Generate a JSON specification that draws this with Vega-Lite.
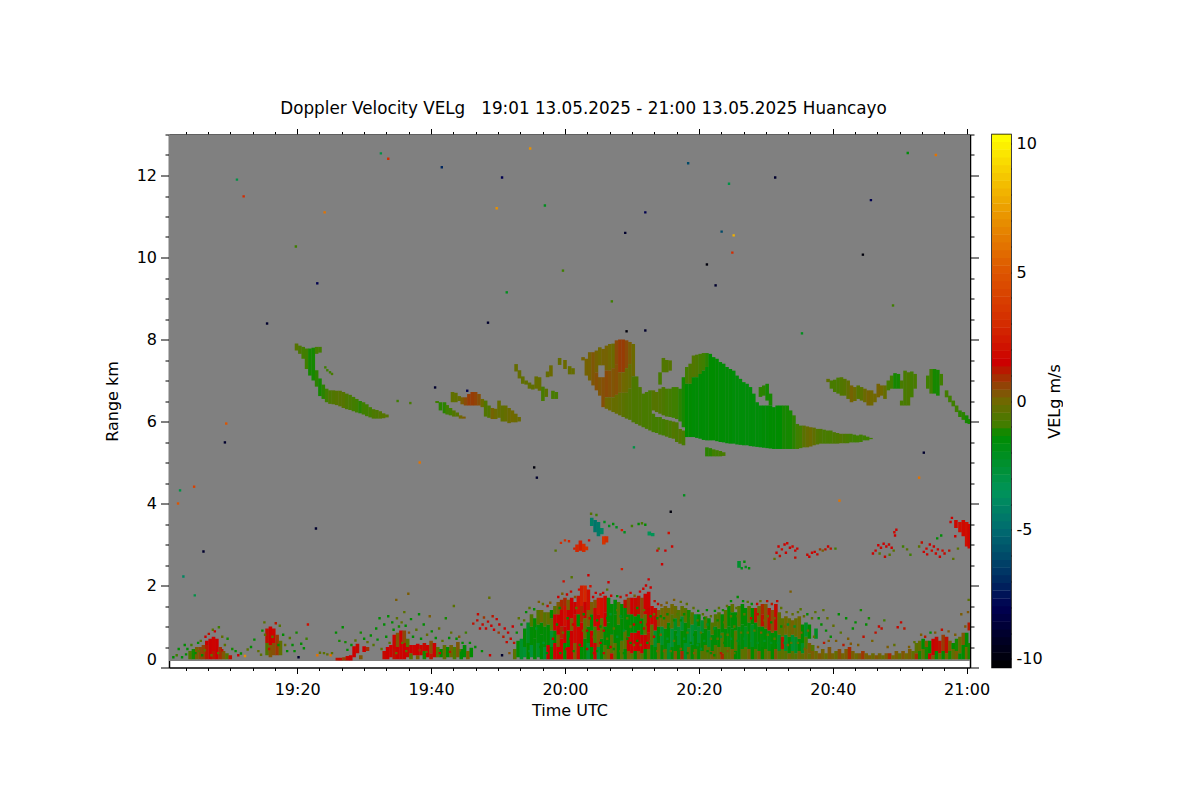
{"$schema":"https://vega.github.io/schema/vega-lite/v6.json","background":"white","padding":{"left":104,"top":100.5,"right":0,"bottom":0},"config":{"view":{"stroke":null},"font":"DejaVu Sans","axis":{"labelFont":"DejaVu Sans","titleFont":"DejaVu Sans","labelFontSize":16,"titleFontSize":16,"labelColor":"black","titleColor":"black","titleFontWeight":"normal","domainColor":"black","tickColor":"black","domainWidth":1.5,"grid":false}},"title":{"text":"Doppler Velocity VELg\u00a0\u00a0\u00a019:01 13.05.2025 - 21:00 13.05.2025 Huancayo","fontSize":16.8,"fontWeight":"normal","font":"DejaVu Sans","color":"black","anchor":"middle","offset":10},"spacing":1,"datasets":{"frame":[{"a":0.85,"b":120.5,"r":0.16,"r2":13}],
"columns":[
{"t":19.9,"r":7.73,"r2":7.9,"v":-0.5},{"t":20.4,"r":7.65,"r2":7.85,"v":-0.7},{"t":20.9,"r":7.53,"r2":7.82,"v":-0.9},{"t":21.4,"r":7.28,"r2":7.78,"v":-1},{"t":21.9,"r":7.12,"r2":7.78,"v":-1.2},{"t":22.4,"r":7,"r2":7.8,"v":-1.2},{"t":22.9,"r":6.85,"r2":7.25,"v":-1.1},{"t":22.9,"r":7.65,"r2":7.82,"v":-0.9},{"t":23.4,"r":6.62,"r2":7.05,"v":-1.2},{"t":23.4,"r":7.68,"r2":7.82,"v":-0.9},{"t":23.9,"r":6.55,"r2":6.9,"v":-1.1},{"t":24.4,"r":6.47,"r2":6.8,"v":-1},{"t":24.9,"r":6.43,"r2":6.76,"v":-0.7},{"t":25.4,"r":6.42,"r2":6.76,"v":-0.6},{"t":25.9,"r":6.4,"r2":6.75,"v":-0.5},{"t":26.4,"r":6.37,"r2":6.75,"v":-0.5},{"t":26.9,"r":6.33,"r2":6.72,"v":-0.5},{"t":27.4,"r":6.3,"r2":6.68,"v":-0.7},{"t":27.9,"r":6.28,"r2":6.65,"v":-0.8},{"t":28.4,"r":6.25,"r2":6.6,"v":-0.9},{"t":28.9,"r":6.22,"r2":6.55,"v":-1},{"t":29.4,"r":6.2,"r2":6.5,"v":-1.1},{"t":29.9,"r":6.17,"r2":6.47,"v":-1},{"t":30.4,"r":6.13,"r2":6.42,"v":-1},{"t":30.9,"r":6.1,"r2":6.35,"v":-0.9},{"t":31.4,"r":6.07,"r2":6.3,"v":-0.7},{"t":31.9,"r":6.07,"r2":6.28,"v":-0.7},{"t":32.4,"r":6.07,"r2":6.25,"v":-0.6},{"t":32.9,"r":6.08,"r2":6.2,"v":-0.5},{"t":33.4,"r":6.1,"r2":6.17,"v":-0.5},
{"t":40.9,"r":6.45,"r2":6.5,"v":-1},{"t":41.4,"r":6.27,"r2":6.47,"v":-1.1},{"t":42,"r":6.2,"r2":6.47,"v":-1.1},{"t":42.4,"r":6.17,"r2":6.4,"v":-1},{"t":42.9,"r":6.15,"r2":6.33,"v":-0.9},{"t":43.4,"r":6.12,"r2":6.27,"v":-0.6},{"t":43.9,"r":6.12,"r2":6.22,"v":-0.5},{"t":44.4,"r":6.07,"r2":6.15,"v":0},{"t":44.9,"r":6.07,"r2":6.12,"v":0.2},{"t":43.2,"r":6.47,"r2":6.72,"v":-0.3},{"t":43.7,"r":6.47,"r2":6.7,"v":-0.3},{"t":44.2,"r":6.5,"r2":6.62,"v":-0.2},{"t":44.65,"r":6.42,"r2":6.59,"v":0.2},{"t":45.15,"r":6.39,"r2":6.59,"v":0.5},{"t":45.65,"r":6.39,"r2":6.67,"v":0.7},{"t":46.15,"r":6.39,"r2":6.72,"v":0.7},{"t":46.65,"r":6.39,"r2":6.72,"v":0.6},{"t":47.15,"r":6.39,"r2":6.67,"v":0.4},{"t":47.65,"r":6.35,"r2":6.55,"v":-0.1},{"t":48.15,"r":6.12,"r2":6.51,"v":-0.6},{"t":48.65,"r":6.09,"r2":6.39,"v":-0.6},{"t":49.15,"r":6.06,"r2":6.33,"v":0.1},{"t":49.65,"r":6.06,"r2":6.31,"v":-0.1},{"t":50.15,"r":6.09,"r2":6.51,"v":-0.2},{"t":50.65,"r":6,"r2":6.39,"v":-0.3},{"t":51.15,"r":6,"r2":6.39,"v":-0.2},{"t":51.65,"r":5.96,"r2":6.33,"v":-0.1},{"t":52.15,"r":5.98,"r2":6.27,"v":0},{"t":52.65,"r":5.98,"r2":6.19,"v":-0.1},{"t":53.15,"r":6,"r2":6.11,"v":-0.1},
{"t":52.7,"r":7.22,"r2":7.4,"v":-0.2},{"t":53.2,"r":7.05,"r2":7.25,"v":-0.2},{"t":53.7,"r":6.92,"r2":7.1,"v":-0.3},{"t":54.2,"r":6.9,"r2":7,"v":-0.3},{"t":54.7,"r":6.8,"r2":6.95,"v":-0.3},{"t":55.2,"r":6.78,"r2":6.9,"v":-0.3},{"t":55.7,"r":6.8,"r2":7.1,"v":-0.2},{"t":56.2,"r":6.75,"r2":7.08,"v":-0.2},{"t":56.7,"r":6.5,"r2":6.85,"v":-0.8},{"t":57.2,"r":6.6,"r2":6.8,"v":-0.4},{"t":57.4,"r":7.08,"r2":7.22,"v":-0.2},{"t":57.9,"r":7.1,"r2":7.37,"v":-0.1},{"t":58.2,"r":6.55,"r2":6.75,"v":-0.8},{"t":58.7,"r":6.55,"r2":6.72,"v":-0.8},{"t":59.2,"r":7.38,"r2":7.55,"v":-0.2},{"t":60,"r":7.28,"r2":7.5,"v":-0.1},{"t":60.7,"r":7.15,"r2":7.35,"v":-0.2},{"t":61.2,"r":7.15,"r2":7.3,"v":-0.2},
{"t":62.7,"r":7.49,"r2":7.57,"v":0.1},{"t":63.2,"r":7.12,"r2":7.53,"v":0.1},{"t":63.7,"r":7,"r2":7.69,"v":0.1},{"t":64.2,"r":6.88,"r2":7.69,"v":0.3},{"t":64.7,"r":6.76,"r2":7.2,"v":0.4},{"t":64.7,"r":7.2,"r2":7.73,"v":0.1},{"t":65.2,"r":6.63,"r2":7.08,"v":0.3},{"t":65.2,"r":7.37,"r2":7.81,"v":0},{"t":65.7,"r":7.37,"r2":7.77,"v":0.1},{"t":65.7,"r":6.35,"r2":7.08,"v":0.4},{"t":66.2,"r":7.24,"r2":7.85,"v":0.1},{"t":66.2,"r":6.59,"r2":7.24,"v":0.5},{"t":66.2,"r":6.31,"r2":6.59,"v":0},{"t":66.7,"r":7.24,"r2":7.89,"v":0},{"t":66.7,"r":6.59,"r2":7.24,"v":0.4},{"t":66.7,"r":6.27,"r2":6.59,"v":-0.1},{"t":67.2,"r":7.3,"r2":7.9,"v":-0.1},{"t":67.2,"r":6.59,"r2":7.3,"v":0.3},{"t":67.2,"r":6.23,"r2":6.59,"v":-0.2},{"t":67.7,"r":7.4,"r2":7.98,"v":0.5},{"t":67.7,"r":6.65,"r2":7.4,"v":0.4},{"t":67.7,"r":6.19,"r2":6.65,"v":-0.2},{"t":68.2,"r":7.2,"r2":8,"v":0.7},{"t":68.2,"r":6.7,"r2":7.2,"v":0.2},{"t":68.2,"r":6.15,"r2":6.7,"v":-0.3},{"t":68.7,"r":7.2,"r2":8,"v":0.7},{"t":68.7,"r":6.7,"r2":7.2,"v":0},{"t":68.7,"r":6.11,"r2":6.7,"v":-0.4},{"t":69.2,"r":7.3,"r2":7.98,"v":0.5},{"t":69.2,"r":6.7,"r2":7.3,"v":-0.1},{"t":69.2,"r":6.07,"r2":6.7,"v":-0.5},{"t":69.7,"r":7.4,"r2":7.94,"v":0.2},{"t":69.7,"r":6.8,"r2":7.4,"v":-0.2},{"t":69.7,"r":6.04,"r2":6.8,"v":-0.6},{"t":70.2,"r":7.1,"r2":7.89,"v":-0.1},{"t":70.2,"r":5.98,"r2":7.1,"v":-0.7},{"t":70.7,"r":5.94,"r2":7.1,"v":-0.7},{"t":71.2,"r":5.9,"r2":6.84,"v":-0.7},{"t":71.7,"r":5.86,"r2":6.68,"v":-0.8},{"t":72.2,"r":5.82,"r2":6.72,"v":-0.8},{"t":72.7,"r":5.78,"r2":6.76,"v":-0.8},{"t":73.2,"r":6.27,"r2":6.76,"v":-0.5},{"t":73.2,"r":5.74,"r2":6.19,"v":-0.9},{"t":73.7,"r":6.23,"r2":6.72,"v":-0.5},{"t":73.7,"r":5.72,"r2":6.11,"v":-0.9},{"t":74.2,"r":6.19,"r2":6.8,"v":-0.6},{"t":74.2,"r":5.68,"r2":6.11,"v":-0.9},{"t":74.2,"r":6.9,"r2":7.2,"v":-0.8},{"t":74.7,"r":6.15,"r2":6.84,"v":-0.7},{"t":74.7,"r":5.66,"r2":6.06,"v":-0.9},{"t":74.7,"r":7.2,"r2":7.55,"v":-0.6},{"t":75.2,"r":6.12,"r2":6.8,"v":-0.8},{"t":75.2,"r":5.63,"r2":6.04,"v":-0.8},{"t":75.2,"r":7.2,"r2":7.5,"v":-0.6},{"t":75.7,"r":6.11,"r2":6.8,"v":-0.9},{"t":75.7,"r":5.6,"r2":6.02,"v":-0.8},{"t":75.7,"r":7.24,"r2":7.49,"v":-0.5},{"t":76.2,"r":6.09,"r2":6.84,"v":-1},{"t":76.2,"r":5.58,"r2":6,"v":-0.6},{"t":76.7,"r":6.06,"r2":6.84,"v":-1},{"t":76.7,"r":5.5,"r2":5.98,"v":-0.7},{"t":77.2,"r":6,"r2":6.8,"v":-1.1},{"t":77.2,"r":5.46,"r2":5.82,"v":-0.6},{"t":77.7,"r":5.86,"r2":7.08,"v":-1.2},{"t":77.7,"r":5.42,"r2":5.78,"v":-0.8},{"t":78.2,"r":6.92,"r2":7.33,"v":-0.9},{"t":78.2,"r":5.62,"r2":6.92,"v":-1.3},{"t":78.7,"r":6.92,"r2":7.41,"v":-0.7},{"t":78.7,"r":5.62,"r2":6.92,"v":-1.3},{"t":79.2,"r":7.08,"r2":7.61,"v":-0.6},{"t":79.2,"r":5.62,"r2":7.08,"v":-1.4},{"t":79.7,"r":7.08,"r2":7.63,"v":-0.7},{"t":79.7,"r":5.6,"r2":7.08,"v":-1.4},{"t":80.2,"r":7.16,"r2":7.65,"v":-0.9},{"t":80.2,"r":5.58,"r2":7.16,"v":-1.4},{"t":80.7,"r":7.24,"r2":7.67,"v":-1},{"t":80.7,"r":5.55,"r2":7.24,"v":-1.4},{"t":81.2,"r":7.33,"r2":7.67,"v":-1.1},{"t":81.2,"r":5.54,"r2":7.33,"v":-1.4},{"t":81.2,"r":5.15,"r2":5.37,"v":-1.1},{"t":81.7,"r":5.54,"r2":7.65,"v":-1.3},{"t":81.7,"r":5.15,"r2":5.35,"v":-1.1},{"t":82.2,"r":5.54,"r2":7.57,"v":-1.3},{"t":82.2,"r":5.15,"r2":5.32,"v":-1},{"t":82.7,"r":5.52,"r2":7.53,"v":-1.3},{"t":82.7,"r":5.15,"r2":5.3,"v":-1},{"t":83.2,"r":5.5,"r2":7.45,"v":-1.4},{"t":83.2,"r":5.15,"r2":5.28,"v":-0.9},{"t":83.7,"r":5.49,"r2":7.41,"v":-1.4},{"t":83.7,"r":5.16,"r2":5.25,"v":-0.8},{"t":84.2,"r":5.47,"r2":7.33,"v":-1.4},{"t":84.7,"r":5.46,"r2":7.28,"v":-1.4},{"t":85.2,"r":5.46,"r2":7.24,"v":-1.5},{"t":85.7,"r":5.44,"r2":7.12,"v":-1.5},{"t":86.2,"r":5.43,"r2":7.04,"v":-1.5},{"t":86.7,"r":5.42,"r2":6.96,"v":-1.5},{"t":87.2,"r":5.42,"r2":6.92,"v":-1.5},{"t":87.7,"r":5.4,"r2":6.84,"v":-1.5},{"t":88.2,"r":5.39,"r2":6.68,"v":-1.5},{"t":88.7,"r":5.38,"r2":6.47,"v":-1.5},{"t":89.2,"r":5.37,"r2":6.39,"v":-1.5},{"t":89.2,"r":6.6,"r2":6.84,"v":-1.1},{"t":89.7,"r":5.36,"r2":6.39,"v":-1.4},{"t":89.7,"r":6.63,"r2":6.88,"v":-1.1},{"t":90.2,"r":5.35,"r2":6.39,"v":-1.4},{"t":90.2,"r":6.51,"r2":6.92,"v":-1.2},{"t":90.7,"r":5.34,"r2":6.39,"v":-1.3},{"t":90.7,"r":6.39,"r2":6.68,"v":-1.2},{"t":91.2,"r":5.33,"r2":6.35,"v":-1.3},{"t":91.7,"r":5.33,"r2":6.39,"v":-1.3},{"t":92.2,"r":5.33,"r2":6.39,"v":-1.3},{"t":92.7,"r":5.33,"r2":6.39,"v":-1.2},{"t":93.2,"r":5.33,"r2":6.39,"v":-1.2},{"t":93.7,"r":5.33,"r2":6.27,"v":-1.2},{"t":94.2,"r":5.33,"r2":6.15,"v":-1.1},{"t":94.7,"r":5.33,"r2":5.94,"v":-1},{"t":95.2,"r":5.35,"r2":5.9,"v":-0.9},{"t":95.7,"r":5.37,"r2":5.9,"v":-0.4},{"t":96.2,"r":5.37,"r2":5.88,"v":-0.2},{"t":96.7,"r":5.39,"r2":5.86,"v":-0.1},{"t":97.2,"r":5.42,"r2":5.85,"v":-0.3},{"t":97.7,"r":5.44,"r2":5.82,"v":-0.6},{"t":98.2,"r":5.46,"r2":5.82,"v":-0.7},{"t":98.7,"r":5.46,"r2":5.8,"v":-0.8},{"t":99.2,"r":5.46,"r2":5.78,"v":-0.8},{"t":99.7,"r":5.46,"r2":5.78,"v":-0.8},{"t":100.2,"r":5.46,"r2":5.74,"v":-0.7},{"t":100.7,"r":5.46,"r2":5.72,"v":-0.7},{"t":101.2,"r":5.47,"r2":5.7,"v":-0.6},{"t":101.7,"r":5.47,"r2":5.7,"v":-0.7},{"t":102.2,"r":5.47,"r2":5.7,"v":-0.8},{"t":102.7,"r":5.49,"r2":5.7,"v":-0.9},{"t":103.2,"r":5.49,"r2":5.68,"v":-1},{"t":103.7,"r":5.49,"r2":5.66,"v":-1},{"t":104.2,"r":5.5,"r2":5.68,"v":-1},{"t":104.7,"r":5.54,"r2":5.66,"v":-1},{"t":105.2,"r":5.54,"r2":5.63,"v":-1},{"t":105.7,"r":5.57,"r2":5.6,"v":-1},
{"t":99.3,"r":6.96,"r2":7.04,"v":-0.3},{"t":99.8,"r":6.8,"r2":7,"v":-0.8},{"t":100.3,"r":6.72,"r2":7.02,"v":-0.8},{"t":100.8,"r":6.68,"r2":7.07,"v":-0.8},{"t":101.3,"r":6.63,"r2":7.08,"v":-0.6},{"t":101.8,"r":6.63,"r2":7.04,"v":-0.5},{"t":102.3,"r":6.55,"r2":7,"v":-0.3},{"t":102.8,"r":6.47,"r2":6.88,"v":0.1},{"t":103.3,"r":6.5,"r2":6.84,"v":-0.1},{"t":103.8,"r":6.55,"r2":6.88,"v":-0.5},{"t":104.3,"r":6.51,"r2":6.84,"v":-0.4},{"t":104.8,"r":6.47,"r2":6.8,"v":-0.1},{"t":105.3,"r":6.39,"r2":6.76,"v":0.1},{"t":105.8,"r":6.39,"r2":6.76,"v":0},{"t":106.3,"r":6.47,"r2":6.68,"v":0},{"t":106.8,"r":6.59,"r2":6.92,"v":0.1},{"t":107.3,"r":6.63,"r2":6.88,"v":0},{"t":107.8,"r":6.55,"r2":6.88,"v":-0.2},{"t":108.3,"r":6.76,"r2":7,"v":-0.9},{"t":108.8,"r":6.8,"r2":7.12,"v":-1},{"t":109.3,"r":6.8,"r2":7.18,"v":-1.2},{"t":109.8,"r":6.8,"r2":7.16,"v":-1.2},{"t":110.3,"r":6.8,"r2":7,"v":-0.8},{"t":110.3,"r":6.39,"r2":6.51,"v":-0.8},{"t":110.8,"r":6.39,"r2":7.24,"v":-0.8},{"t":111.3,"r":6.39,"r2":7.2,"v":-0.7},{"t":111.8,"r":6.59,"r2":7.22,"v":-0.9},{"t":112.3,"r":6.8,"r2":7.16,"v":-0.8},{"t":114.2,"r":6.8,"r2":7.12,"v":-1},{"t":114.7,"r":6.68,"r2":7.28,"v":-1},{"t":115.2,"r":6.68,"r2":7.28,"v":-1.2},{"t":115.7,"r":6.63,"r2":7.26,"v":-1.2},{"t":116.2,"r":6.88,"r2":7.16,"v":-1},{"t":117,"r":6.59,"r2":6.76,"v":-0.9},{"t":117.5,"r":6.47,"r2":6.63,"v":-1},{"t":118,"r":6.37,"r2":6.51,"v":-1},{"t":118.5,"r":6.23,"r2":6.39,"v":-1},{"t":119,"r":6.11,"r2":6.27,"v":-1.1},{"t":119.5,"r":6.04,"r2":6.23,"v":-1.1},{"t":120,"r":5.96,"r2":6.15,"v":-1.2},{"t":120.4,"r":5.94,"r2":6.06,"v":-1.2},
{"t":64,"r":3.45,"r2":3.65,"v":-4.2},{"t":64.5,"r":3.3,"r2":3.6,"v":-4.6},{"t":65,"r":3.2,"r2":3.55,"v":-4.4},{"t":65.5,"r":3.25,"r2":3.4,"v":-4},{"t":65.8,"r":3,"r2":3.2,"v":3.4},{"t":66.2,"r":3.05,"r2":3.2,"v":3},{"t":61.8,"r":2.82,"r2":3,"v":2.8},{"t":62.3,"r":2.85,"r2":3.1,"v":2.5},{"t":62.8,"r":2.82,"r2":3.02,"v":3},{"t":63.2,"r":2.86,"r2":2.95,"v":3.2},{"t":72.6,"r":3.22,"r2":3.32,"v":-3.4},{"t":73.1,"r":3.2,"r2":3.28,"v":-3.4},{"t":86,"r":2.43,"r2":2.6,"v":-2.4},{"t":118.4,"r":3.4,"r2":3.6,"v":1.8},{"t":119,"r":3.3,"r2":3.55,"v":2},{"t":119.5,"r":3.2,"r2":3.6,"v":1.8},{"t":120,"r":2.95,"r2":3.55,"v":2},{"t":120.4,"r":2.9,"r2":3.5,"v":1.7},
{"t":4,"r":0.2,"r2":0.4,"v":-0.6},{"t":4.5,"r":0.2,"r2":0.45,"v":-1.2},{"t":5,"r":0.2,"r2":0.5,"v":0.2},{"t":5.5,"r":0.2,"r2":0.5,"v":0.5},{"t":6,"r":0.2,"r2":0.55,"v":0.6},{"t":6.5,"r":0.2,"r2":0.55,"v":1.2},{"t":6.5,"r":0.55,"r2":0.65,"v":1.5},{"t":7,"r":0.2,"r2":0.7,"v":1.5},{"t":7.5,"r":0.2,"r2":0.4,"v":1.2},{"t":7.5,"r":0.4,"r2":0.75,"v":1.6},{"t":8,"r":0.2,"r2":0.7,"v":1.5},{"t":8.5,"r":0.2,"r2":0.5,"v":0.9},{"t":9,"r":0.2,"r2":0.4,"v":0.3},{"t":9.5,"r":0.2,"r2":0.35,"v":-0.5},{"t":10,"r":0.2,"r2":0.3,"v":1.3},
{"t":15.5,"r":0.3,"r2":0.6,"v":-0.6},{"t":15.5,"r":0.6,"r2":0.95,"v":1.3},{"t":16,"r":0.25,"r2":0.55,"v":0.3},{"t":16,"r":0.55,"r2":1,"v":1.5},{"t":16.5,"r":0.3,"r2":0.6,"v":0.4},{"t":16.5,"r":0.6,"r2":0.95,"v":1.6},{"t":17,"r":0.3,"r2":0.8,"v":0.8},{"t":17.5,"r":0.3,"r2":0.65,"v":-0.3},
{"t":26,"r":0.17,"r2":0.24,"v":1.3},{"t":26.5,"r":0.17,"r2":0.24,"v":1.4},{"t":27,"r":0.17,"r2":0.25,"v":0.6},{"t":27.5,"r":0.17,"r2":0.28,"v":1.4},{"t":28,"r":0.17,"r2":0.3,"v":1.5},{"t":28.5,"r":0.25,"r2":0.52,"v":1.5},{"t":29,"r":0.35,"r2":0.58,"v":1.4},{"t":29.5,"r":0.2,"r2":0.3,"v":0.3},{"t":30,"r":0.38,"r2":0.52,"v":1.5},{"t":30.5,"r":0.4,"r2":0.5,"v":0.9},
{"t":33,"r":0.2,"r2":0.4,"v":1.4},{"t":33.5,"r":0.2,"r2":0.5,"v":1.5},{"t":34,"r":0.25,"r2":0.55,"v":1.6},{"t":34.5,"r":0.2,"r2":0.45,"v":1.3},{"t":34.5,"r":0.45,"r2":0.8,"v":1.6},{"t":35,"r":0.2,"r2":0.5,"v":1.5},{"t":35,"r":0.5,"r2":0.85,"v":0.3},{"t":35.5,"r":0.2,"r2":0.9,"v":1.6},{"t":36,"r":0.2,"r2":0.6,"v":1.5},{"t":36,"r":0.6,"r2":0.9,"v":0.5},{"t":36.5,"r":0.25,"r2":0.5,"v":1.4},{"t":36.5,"r":0.5,"r2":0.7,"v":-0.4},{"t":37,"r":0.2,"r2":0.35,"v":-0.5},{"t":37,"r":0.35,"r2":0.55,"v":1.5},{"t":37.5,"r":0.3,"r2":0.55,"v":1.6},{"t":38,"r":0.2,"r2":0.3,"v":0.2},{"t":38,"r":0.3,"r2":0.58,"v":1.5},{"t":38.5,"r":0.3,"r2":0.55,"v":1.6},{"t":39,"r":0.2,"r2":0.4,"v":-1.2},{"t":39,"r":0.4,"r2":0.6,"v":1.4},{"t":39.5,"r":0.25,"r2":0.55,"v":1.5},{"t":40,"r":0.2,"r2":0.35,"v":1.2},{"t":40,"r":0.35,"r2":0.65,"v":0.4},{"t":40.5,"r":0.25,"r2":0.6,"v":1.5},{"t":41,"r":0.25,"r2":0.5,"v":-0.4},{"t":41.5,"r":0.25,"r2":0.45,"v":-1.3},{"t":42,"r":0.2,"r2":0.55,"v":-0.3},{"t":42.5,"r":0.25,"r2":0.5,"v":-1.3},{"t":43,"r":0.25,"r2":0.55,"v":0.1},{"t":43.5,"r":0.2,"r2":0.5,"v":-0.8},{"t":44,"r":0.25,"r2":0.62,"v":0.3},{"t":44.5,"r":0.2,"r2":0.45,"v":-1.4},{"t":45,"r":0.25,"r2":0.55,"v":-1.4},{"t":45.5,"r":0.2,"r2":0.4,"v":0.2},{"t":46,"r":0.25,"r2":0.48,"v":-1.3},
{"t":52.5,"r":0.2,"r2":0.45,"v":-0.4},{"t":53,"r":0.25,"r2":0.65,"v":-1.4},{"t":53.5,"r":0.2,"r2":0.7,"v":-2.4},{"t":54,"r":0.25,"r2":0.5,"v":-2.6},{"t":54,"r":0.5,"r2":0.95,"v":-1.4},{"t":54.5,"r":0.2,"r2":0.6,"v":-1.3},{"t":54.5,"r":0.6,"r2":1.1,"v":-2.2},{"t":55,"r":0.25,"r2":0.55,"v":-2.8},{"t":55,"r":0.55,"r2":1,"v":-1.4},{"t":55,"r":1,"r2":1.3,"v":-0.7},{"t":55.5,"r":0.2,"r2":0.7,"v":-1.4},{"t":55.5,"r":0.7,"r2":1.2,"v":-1.3},{"t":56,"r":0.25,"r2":0.6,"v":-2.3},{"t":56,"r":0.6,"r2":1.05,"v":-1.5},{"t":56,"r":1.05,"r2":1.4,"v":-0.5},{"t":56.5,"r":0.2,"r2":0.8,"v":-1.4},{"t":56.5,"r":0.8,"r2":1.1,"v":-1.3},{"t":56.5,"r":1.1,"r2":1.4,"v":0},{"t":57,"r":0.2,"r2":0.5,"v":-2.4},{"t":57,"r":0.5,"r2":1,"v":-1.4},{"t":57,"r":1,"r2":1.35,"v":-0.5},{"t":57.5,"r":0.2,"r2":0.55,"v":1.5},{"t":57.5,"r":0.55,"r2":1.05,"v":-1.3},{"t":57.5,"r":1.05,"r2":1.35,"v":-0.2},
{"t":58,"r":0.2,"r2":0.5,"v":-1.3},{"t":58,"r":0.5,"r2":0.9,"v":-2.4},{"t":58,"r":0.9,"r2":1.2,"v":-0.4},{"t":58,"r":1.2,"r2":1.4,"v":-1.3},{"t":58.5,"r":0.2,"r2":0.6,"v":1.5},{"t":58.5,"r":0.6,"r2":0.9,"v":-1.3},{"t":58.5,"r":0.9,"r2":1.3,"v":1.5},{"t":58.5,"r":1.3,"r2":1.5,"v":-0.4},{"t":59,"r":0.2,"r2":0.5,"v":1.5},{"t":59,"r":0.5,"r2":0.8,"v":0.2},{"t":59,"r":0.8,"r2":1.3,"v":1.5},{"t":59,"r":1.3,"r2":1.6,"v":0.2},{"t":59.5,"r":0.2,"r2":0.7,"v":1.6},{"t":59.5,"r":0.7,"r2":1,"v":1},{"t":59.5,"r":1,"r2":1.4,"v":1.5},{"t":59.5,"r":1.4,"r2":1.65,"v":1},{"t":60,"r":0.2,"r2":0.6,"v":-1.3},{"t":60,"r":0.6,"r2":1,"v":1.5},{"t":60,"r":1,"r2":1.5,"v":2},{"t":60,"r":1.5,"r2":1.7,"v":1},{"t":60.5,"r":0.2,"r2":0.5,"v":1.5},{"t":60.5,"r":0.5,"r2":0.9,"v":-1.3},{"t":60.5,"r":0.9,"r2":1.4,"v":1.5},{"t":60.5,"r":1.4,"r2":1.65,"v":0.2},{"t":61,"r":0.2,"r2":0.9,"v":1.5},{"t":61,"r":0.9,"r2":1.2,"v":0.2},{"t":61,"r":1.2,"r2":1.7,"v":1.5},{"t":61.5,"r":0.2,"r2":0.6,"v":0.2},{"t":61.5,"r":0.6,"r2":1.3,"v":1.8},{"t":61.5,"r":1.3,"r2":1.6,"v":1.5},{"t":62,"r":0.2,"r2":1,"v":1.7},{"t":62,"r":1,"r2":1.3,"v":-1.3},{"t":62,"r":1.3,"r2":1.75,"v":2},{"t":62.5,"r":0.2,"r2":0.5,"v":-1.3},{"t":62.5,"r":0.5,"r2":1.1,"v":1.5},{"t":62.5,"r":1.1,"r2":1.5,"v":1},{"t":62.5,"r":1.5,"r2":2,"v":2.5},{"t":63,"r":0.2,"r2":0.7,"v":-1.3},{"t":63,"r":0.7,"r2":1.2,"v":-0.4},{"t":63,"r":1.2,"r2":1.6,"v":1.5},{"t":63,"r":1.6,"r2":2,"v":2.8},{"t":63.5,"r":0.2,"r2":0.6,"v":-2.4},{"t":63.5,"r":0.6,"r2":1,"v":-1.3},{"t":63.5,"r":1,"r2":1.4,"v":0.2},{"t":63.5,"r":1.4,"r2":1.9,"v":2},{"t":64,"r":0.2,"r2":0.5,"v":-1.3},{"t":64,"r":0.5,"r2":0.9,"v":1.5},{"t":64,"r":0.9,"r2":1.3,"v":-1.3},{"t":64,"r":1.3,"r2":1.6,"v":0.2},{"t":64.5,"r":0.2,"r2":0.6,"v":1.4},{"t":64.5,"r":0.6,"r2":1,"v":-1},{"t":64.5,"r":1,"r2":1.45,"v":1.6},{"t":64.5,"r":1.45,"r2":1.65,"v":0.3},{"t":65,"r":0.2,"r2":0.5,"v":-2.6},{"t":65,"r":0.5,"r2":0.9,"v":0.2},{"t":65,"r":0.9,"r2":1.3,"v":1.6},{"t":65,"r":1.3,"r2":1.7,"v":2.2},{"t":65.5,"r":0.2,"r2":0.7,"v":-1.4},{"t":65.5,"r":0.7,"r2":1.2,"v":-0.4},{"t":65.5,"r":1.2,"r2":1.7,"v":2},{"t":66,"r":0.2,"r2":0.55,"v":-0.6},{"t":66,"r":0.55,"r2":1,"v":-1.3},{"t":66,"r":1,"r2":1.35,"v":1.5},{"t":66,"r":1.35,"r2":1.75,"v":1.7},{"t":66.5,"r":0.2,"r2":0.45,"v":0.2},{"t":66.5,"r":0.45,"r2":1.1,"v":-1.3},{"t":66.5,"r":1.1,"r2":1.7,"v":-1.4},{"t":67,"r":0.2,"r2":0.35,"v":1.4},{"t":67,"r":0.35,"r2":0.8,"v":-0.5},{"t":67,"r":0.8,"r2":1.55,"v":-1.4},{"t":67.5,"r":0.2,"r2":0.6,"v":-0.4},{"t":67.5,"r":0.6,"r2":1.3,"v":-1.3},{"t":67.5,"r":1.3,"r2":1.65,"v":-1.5},{"t":68,"r":0.2,"r2":0.55,"v":-1.3},{"t":68,"r":0.55,"r2":1.05,"v":-1.4},{"t":68,"r":1.05,"r2":1.6,"v":-0.6},{"t":68.5,"r":0.2,"r2":0.65,"v":-0.4},{"t":68.5,"r":0.65,"r2":1.2,"v":-1.3},{"t":68.5,"r":1.2,"r2":1.55,"v":-1.3},{"t":69,"r":0.2,"r2":0.45,"v":-1.4},{"t":69,"r":0.45,"r2":0.9,"v":-0.4},{"t":69,"r":0.9,"r2":1.45,"v":-1.4},{"t":69,"r":1.45,"r2":1.65,"v":1.3},{"t":69.5,"r":0.2,"r2":0.4,"v":0.2},{"t":69.5,"r":0.4,"r2":0.75,"v":1.4},{"t":69.5,"r":0.75,"r2":1.3,"v":-1.3},{"t":69.5,"r":1.3,"r2":1.7,"v":0.6},{"t":70,"r":0.2,"r2":0.35,"v":-0.4},{"t":70,"r":0.35,"r2":0.85,"v":1.6},{"t":70,"r":0.85,"r2":1.3,"v":-1.3},{"t":70,"r":1.3,"r2":1.7,"v":1.5},{"t":70.5,"r":0.2,"r2":0.4,"v":-1.3},{"t":70.5,"r":0.4,"r2":0.85,"v":1.6},{"t":70.5,"r":0.85,"r2":1.25,"v":-1.4},{"t":70.5,"r":1.25,"r2":1.7,"v":1.4},{"t":71,"r":0.2,"r2":0.4,"v":0.3},{"t":71,"r":0.4,"r2":0.9,"v":1.5},{"t":71,"r":0.9,"r2":1.3,"v":-1.3},{"t":71,"r":1.3,"r2":1.75,"v":1.3},{"t":71.5,"r":0.2,"r2":0.35,"v":-0.4},{"t":71.5,"r":0.35,"r2":0.8,"v":1.5},{"t":71.5,"r":0.8,"r2":1.2,"v":-1.4},{"t":71.5,"r":1.2,"r2":1.7,"v":0.5},{"t":72,"r":0.2,"r2":0.45,"v":-1.3},{"t":72,"r":0.45,"r2":0.8,"v":1.5},{"t":72,"r":0.8,"r2":1.3,"v":-0.4},{"t":72,"r":1.3,"r2":1.8,"v":1.6},{"t":72.5,"r":0.2,"r2":0.45,"v":-0.4},{"t":72.5,"r":0.45,"r2":0.85,"v":1.2},{"t":72.5,"r":0.85,"r2":1.45,"v":1.5},{"t":72.5,"r":1.45,"r2":1.85,"v":1.6},{"t":73,"r":0.2,"r2":0.55,"v":-1.3},{"t":73,"r":0.55,"r2":1.05,"v":-0.4},{"t":73,"r":1.05,"r2":1.5,"v":1.6},{"t":73.5,"r":0.2,"r2":0.5,"v":-1.4},{"t":73.5,"r":0.5,"r2":0.9,"v":-2.4},{"t":73.5,"r":0.9,"r2":1.45,"v":1.4},{"t":74,"r":0.2,"r2":0.6,"v":-0.3},{"t":74,"r":0.6,"r2":1,"v":-1.4},{"t":74,"r":1,"r2":1.4,"v":0.4},{"t":74.5,"r":0.2,"r2":0.55,"v":-1.4},{"t":74.5,"r":0.55,"r2":1,"v":-2.4},{"t":74.5,"r":1,"r2":1.45,"v":-0.1},{"t":75,"r":0.2,"r2":0.45,"v":-0.4},{"t":75,"r":0.45,"r2":0.95,"v":-1.5},{"t":75,"r":0.95,"r2":1.5,"v":0.1},{"t":75.5,"r":0.2,"r2":0.6,"v":-2.4},{"t":75.5,"r":0.6,"r2":1.1,"v":-1.4},{"t":75.5,"r":1.1,"r2":1.45,"v":-0.1},{"t":76,"r":0.2,"r2":0.5,"v":-1.4},{"t":76,"r":0.5,"r2":0.95,"v":-2.6},{"t":76,"r":0.95,"r2":1.3,"v":-0.6},{"t":76,"r":1.3,"r2":1.55,"v":0},{"t":76.5,"r":0.2,"r2":0.4,"v":0.2},{"t":76.5,"r":0.4,"r2":0.9,"v":-1.4},{"t":76.5,"r":0.9,"r2":1.2,"v":-2.2},{"t":76.5,"r":1.2,"r2":1.5,"v":-0.2},{"t":77,"r":0.2,"r2":0.55,"v":-1.4},{"t":77,"r":0.55,"r2":1,"v":-2.4},{"t":77,"r":1,"r2":1.4,"v":-0.5},{"t":77.5,"r":0.2,"r2":0.4,"v":1},{"t":77.5,"r":0.4,"r2":0.9,"v":-1.3},{"t":77.5,"r":0.9,"r2":1.25,"v":-2.5},{"t":77.5,"r":1.25,"r2":1.5,"v":-0.3},{"t":78,"r":0.2,"r2":0.6,"v":-2.4},{"t":78,"r":0.6,"r2":1.1,"v":-1.4},{"t":78,"r":1.1,"r2":1.45,"v":-0.5},{"t":78.5,"r":0.2,"r2":0.5,"v":-0.3},{"t":78.5,"r":0.5,"r2":0.95,"v":-2.4},{"t":78.5,"r":0.95,"r2":1.4,"v":-1.2},{"t":79,"r":0.2,"r2":0.55,"v":-1.4},{"t":79,"r":0.55,"r2":1.05,"v":-2.6},{"t":79,"r":1.05,"r2":1.35,"v":-0.5},{"t":79.5,"r":0.2,"r2":0.45,"v":-0.5},{"t":79.5,"r":0.45,"r2":0.9,"v":-1.4},{"t":79.5,"r":0.9,"r2":1.3,"v":-2.3},{"t":80,"r":0.2,"r2":0.6,"v":-1.4},{"t":80,"r":0.6,"r2":1,"v":-2.5},{"t":80,"r":1,"r2":1.3,"v":-1.3},{"t":80.5,"r":0.2,"r2":0.4,"v":-0.4},{"t":80.5,"r":0.4,"r2":0.85,"v":-1.4},{"t":80.5,"r":0.85,"r2":1.15,"v":-2.4},{"t":81,"r":0.2,"r2":0.55,"v":-0.4},{"t":81,"r":0.55,"r2":0.95,"v":-1.4},{"t":81,"r":0.95,"r2":1.25,"v":-0.5},{"t":81.5,"r":0.2,"r2":0.5,"v":-0.6},{"t":81.5,"r":0.5,"r2":0.9,"v":-2.2},{"t":81.5,"r":0.9,"r2":1.2,"v":-1.4},{"t":82,"r":0.2,"r2":0.4,"v":0.2},{"t":82,"r":0.4,"r2":0.8,"v":-1.4},{"t":82,"r":0.8,"r2":1.1,"v":-0.5},{"t":82.5,"r":0.2,"r2":0.55,"v":-0.5},{"t":82.5,"r":0.55,"r2":1,"v":-1.4},{"t":82.5,"r":1,"r2":1.3,"v":-0.6},{"t":83,"r":0.2,"r2":0.5,"v":-0.2},{"t":83,"r":0.5,"r2":0.95,"v":-1.3},{"t":83,"r":0.95,"r2":1.35,"v":-0.5},{"t":83.5,"r":0.2,"r2":0.35,"v":1},{"t":83.5,"r":0.35,"r2":0.85,"v":-0.5},{"t":83.5,"r":0.85,"r2":1.3,"v":-1.4},{"t":84,"r":0.2,"r2":0.5,"v":-0.4},{"t":84,"r":0.5,"r2":0.95,"v":-1.4},{"t":84,"r":0.95,"r2":1.4,"v":-0.4},{"t":84.5,"r":0.2,"r2":0.5,"v":-0.3},{"t":84.5,"r":0.5,"r2":1,"v":-1.5},{"t":84.5,"r":1,"r2":1.5,"v":-1.3},{"t":85,"r":0.2,"r2":0.45,"v":0.1},{"t":85,"r":0.45,"r2":0.95,"v":-1.4},{"t":85,"r":0.95,"r2":1.35,"v":-1.4},{"t":85,"r":1.35,"r2":1.55,"v":-0.3},{"t":85.5,"r":0.2,"r2":0.4,"v":-1.3},{"t":85.5,"r":0.4,"r2":0.9,"v":-0.4},{"t":85.5,"r":0.9,"r2":1.35,"v":-1.4},{"t":86,"r":0.2,"r2":0.55,"v":-1.4},{"t":86,"r":0.55,"r2":1,"v":-1.6},{"t":86,"r":1,"r2":1.5,"v":-0.5},{"t":86.5,"r":0.2,"r2":0.45,"v":-0.3},{"t":86.5,"r":0.45,"r2":1.05,"v":-1.5},{"t":86.5,"r":1.05,"r2":1.55,"v":-1.3},{"t":87,"r":0.2,"r2":0.5,"v":-0.4},{"t":87,"r":0.5,"r2":1,"v":-2},{"t":87,"r":1,"r2":1.45,"v":-1.4},{"t":87.5,"r":0.2,"r2":0.45,"v":0.2},{"t":87.5,"r":0.45,"r2":1.1,"v":-1.4},{"t":87.5,"r":1.1,"r2":1.5,"v":-0.3},{"t":88,"r":0.2,"r2":0.5,"v":-1.3},{"t":88,"r":0.5,"r2":1.05,"v":-2.2},{"t":88,"r":1.05,"r2":1.45,"v":-1.3},{"t":88.5,"r":0.2,"r2":0.45,"v":-0.5},{"t":88.5,"r":0.45,"r2":1.1,"v":-1.5},{"t":88.5,"r":1.1,"r2":1.45,"v":1.2},{"t":89,"r":0.2,"r2":0.4,"v":0.3},{"t":89,"r":0.4,"r2":1,"v":-1.4},{"t":89,"r":1,"r2":1.5,"v":-0.2},{"t":89.5,"r":0.2,"r2":0.5,"v":-1.3},{"t":89.5,"r":0.5,"r2":1,"v":-1.5},{"t":89.5,"r":1,"r2":1.3,"v":1.3},{"t":89.5,"r":1.3,"r2":1.55,"v":1},{"t":90,"r":0.2,"r2":0.45,"v":-0.4},{"t":90,"r":0.45,"r2":0.95,"v":-1.4},{"t":90,"r":0.95,"r2":1.55,"v":0.3},{"t":90.5,"r":0.2,"r2":0.4,"v":-0.2},{"t":90.5,"r":0.4,"r2":0.9,"v":-1.6},{"t":90.5,"r":0.9,"r2":1.45,"v":1.3},{"t":91,"r":0.2,"r2":0.5,"v":-1.3},{"t":91,"r":0.5,"r2":0.85,"v":-1.4},{"t":91,"r":0.85,"r2":1.4,"v":0.4},{"t":91.5,"r":0.2,"r2":0.45,"v":0.3},{"t":91.5,"r":0.45,"r2":0.9,"v":-1.3},{"t":91.5,"r":0.9,"r2":1.55,"v":1.4},{"t":92,"r":0.2,"r2":0.4,"v":-0.5},{"t":92,"r":0.4,"r2":0.8,"v":-2.2},{"t":92,"r":0.8,"r2":1.35,"v":-0.3},{"t":92.5,"r":0.2,"r2":0.45,"v":-0.3},{"t":92.5,"r":0.45,"r2":0.75,"v":1.2},{"t":92.5,"r":0.75,"r2":1.2,"v":-0.4},{"t":93,"r":0.2,"r2":0.4,"v":-0.5},{"t":93,"r":0.4,"r2":0.8,"v":-2.4},{"t":93,"r":0.8,"r2":1.25,"v":0},{"t":93.5,"r":0.2,"r2":0.35,"v":0.1},{"t":93.5,"r":0.35,"r2":0.75,"v":-1.4},{"t":93.5,"r":0.75,"r2":1.2,"v":-0.2},{"t":94,"r":0.2,"r2":0.4,"v":-0.4},{"t":94,"r":0.4,"r2":0.8,"v":-2.5},{"t":94,"r":0.8,"r2":1.15,"v":0.1},{"t":94.5,"r":0.2,"r2":0.35,"v":-0.5},{"t":94.5,"r":0.35,"r2":0.75,"v":-2.2},{"t":94.5,"r":0.75,"r2":1.2,"v":-0.2},{"t":95,"r":0.2,"r2":0.4,"v":0.1},{"t":95,"r":0.4,"r2":0.7,"v":-1.4},{"t":95,"r":0.7,"r2":1.25,"v":0},{"t":95.5,"r":0.2,"r2":0.35,"v":-0.3},{"t":95.5,"r":0.35,"r2":0.6,"v":-2.3},{"t":95.5,"r":0.6,"r2":1.05,"v":-1.3},{"t":96,"r":0.2,"r2":0.45,"v":0.1},{"t":96,"r":0.45,"r2":0.75,"v":-0.8},{"t":96,"r":0.75,"r2":1.1,"v":-2.2},{"t":96.5,"r":0.2,"r2":0.35,"v":-0.3},{"t":96.5,"r":0.35,"r2":0.6,"v":0.2},{"t":96.5,"r":0.7,"r2":1.05,"v":-1.3},{"t":97,"r":0.2,"r2":0.4,"v":0.2},{"t":97,"r":0.4,"r2":0.55,"v":-0.5},{"t":97.5,"r":0.2,"r2":0.4,"v":-0.1},{"t":97.5,"r":0.7,"r2":0.95,"v":-2.2},{"t":98,"r":0.2,"r2":0.35,"v":0.3},{"t":98.5,"r":0.2,"r2":0.45,"v":0.1},{"t":99,"r":0.2,"r2":0.35,"v":-0.2},{"t":99.5,"r":0.2,"r2":0.5,"v":0.3},{"t":100,"r":0.2,"r2":0.35,"v":0.1},{"t":100.5,"r":0.2,"r2":0.4,"v":-0.2},{"t":101,"r":0.2,"r2":0.45,"v":0.5},{"t":101.5,"r":0.2,"r2":0.35,"v":0.1},{"t":102,"r":0.2,"r2":0.45,"v":0.2},{"t":102.5,"r":0.2,"r2":0.5,"v":1},{"t":103,"r":0.2,"r2":0.4,"v":0.2},{"t":103.5,"r":0.2,"r2":0.35,"v":-0.1},{"t":104,"r":0.2,"r2":0.35,"v":0.3},{"t":104.5,"r":0.2,"r2":0.4,"v":0.8},{"t":105,"r":0.2,"r2":0.35,"v":0.1},{"t":105.5,"r":0.2,"r2":0.3,"v":0.2},{"t":106,"r":0.2,"r2":0.35,"v":-0.1},{"t":106.5,"r":0.2,"r2":0.3,"v":0.3},{"t":107,"r":0.2,"r2":0.35,"v":0.1},{"t":107.5,"r":0.2,"r2":0.3,"v":-0.2},{"t":108,"r":0.2,"r2":0.35,"v":0.2},{"t":108.5,"r":0.2,"r2":0.35,"v":1},{"t":109,"r":0.2,"r2":0.3,"v":0},{"t":109.5,"r":0.2,"r2":0.4,"v":0.2},{"t":110,"r":0.2,"r2":0.35,"v":-0.2},{"t":110.5,"r":0.2,"r2":0.4,"v":0.3},{"t":111,"r":0.2,"r2":0.35,"v":0},{"t":111.5,"r":0.2,"r2":0.45,"v":0.2},{"t":112,"r":0.2,"r2":0.4,"v":-0.3},{"t":112.5,"r":0.2,"r2":0.35,"v":0.9},{"t":112.5,"r":0.35,"r2":0.6,"v":-0.4},{"t":113,"r":0.2,"r2":0.4,"v":-1.2},{"t":113,"r":0.4,"r2":0.65,"v":-0.2},{"t":113.5,"r":0.2,"r2":0.45,"v":-0.3},{"t":113.5,"r":0.45,"r2":0.7,"v":-1.3},{"t":114,"r":0.2,"r2":0.5,"v":-1.2},{"t":114,"r":0.5,"r2":0.65,"v":0.2},{"t":114.5,"r":0.2,"r2":0.35,"v":1.4},{"t":114.5,"r":0.35,"r2":0.65,"v":-1.3},{"t":115,"r":0.2,"r2":0.3,"v":0.2},{"t":115,"r":0.3,"r2":0.7,"v":1.5},{"t":115.5,"r":0.2,"r2":0.4,"v":-1.4},{"t":115.5,"r":0.4,"r2":0.75,"v":1.4},{"t":116,"r":0.2,"r2":0.35,"v":-0.3},{"t":116,"r":0.35,"r2":0.65,"v":1.3},{"t":116.5,"r":0.2,"r2":0.4,"v":-1.3},{"t":116.5,"r":0.4,"r2":0.8,"v":0.7},{"t":117,"r":0.2,"r2":0.35,"v":0},{"t":117,"r":0.35,"r2":0.75,"v":1.3},{"t":117.5,"r":0.2,"r2":0.4,"v":-1.2},{"t":117.5,"r":0.4,"r2":0.65,"v":0.2},{"t":118,"r":0.2,"r2":0.45,"v":-0.3},{"t":118,"r":0.45,"r2":0.6,"v":-1.3},{"t":118.5,"r":0.2,"r2":0.4,"v":0.2},{"t":118.5,"r":0.4,"r2":0.7,"v":-1.2},{"t":119,"r":0.2,"r2":0.35,"v":-1.4},{"t":119,"r":0.35,"r2":0.75,"v":-0.2},{"t":119.5,"r":0.2,"r2":0.55,"v":-1.3},{"t":119.5,"r":0.55,"r2":0.85,"v":0.3},{"t":120,"r":0.2,"r2":0.5,"v":0},{"t":120,"r":0.5,"r2":0.85,"v":-1.3},{"t":120.4,"r":0.2,"r2":0.6,"v":-1.2},{"t":120.4,"r":0.9,"r2":1.1,"v":1.2}],
"specks":[
{"t":32.5,"r":12.54,"v":-3},{"t":33.6,"r":12.41,"v":3},{"t":41.6,"r":12.2,"v":-7},{"t":11,"r":11.9,"v":-3},{"t":12,"r":11.49,"v":3},{"t":24.1,"r":11.1,"v":6},{"t":19.8,"r":10.27,"v":-1},{"t":78.4,"r":12.3,"v":-6},{"t":54.8,"r":12.66,"v":7},{"t":50.6,"r":11.95,"v":-8},{"t":91.4,"r":11.95,"v":-9},{"t":105.7,"r":11.4,"v":-8},{"t":111.2,"r":12.55,"v":-1.5},{"t":115.4,"r":12.5,"v":6},{"t":84.5,"r":11.8,"v":-3},{"t":49.8,"r":11.2,"v":7},{"t":57,"r":11.27,"v":-2},{"t":72,"r":11.1,"v":-8},{"t":69,"r":10.6,"v":-9},{"t":83.4,"r":10.63,"v":-6},{"t":85.2,"r":10.54,"v":8},{"t":81.2,"r":9.83,"v":-10},{"t":85,"r":10.12,"v":3},{"t":104.5,"r":10.07,"v":-10},{"t":23,"r":9.37,"v":-8},{"t":82.5,"r":9.32,"v":-9},{"t":67,"r":8.93,"v":-1},{"t":51.3,"r":9.15,"v":-2},{"t":48.5,"r":8.41,"v":-9},{"t":15.5,"r":8.39,"v":-9},{"t":72,"r":8.22,"v":-9},{"t":69.2,"r":8.2,"v":-10},{"t":95.4,"r":8.15,"v":-2},{"t":109,"r":8.83,"v":-1},{"t":9.4,"r":5.95,"v":5},{"t":9.2,"r":5.49,"v":-9},{"t":40.6,"r":6.83,"v":-9},{"t":45.4,"r":6.75,"v":-8},{"t":55.4,"r":4.88,"v":-10},{"t":55.8,"r":4.63,"v":-9},{"t":38.3,"r":5,"v":6},{"t":4.6,"r":4.41,"v":4},{"t":2.2,"r":4,"v":5},{"t":2.5,"r":4.32,"v":-3},{"t":22.8,"r":3.39,"v":-9},{"t":6,"r":2.83,"v":-9},{"t":3,"r":2.22,"v":-4},{"t":4.7,"r":1.76,"v":-3},{"t":75.8,"r":3.8,"v":-10},{"t":101,"r":4.07,"v":6},{"t":112.9,"r":4.63,"v":6},{"t":113.6,"r":5.24,"v":-9},{"t":70.3,"r":5.37,"v":-3},{"t":77.8,"r":4.2,"v":-2},{"t":59.7,"r":9.68,"v":-1},
{"t":24.2,"r":7.32,"v":-1},{"t":24.5,"r":7.25,"v":-1},{"t":24.9,"r":7.2,"v":-1},{"t":25.2,"r":7.16,"v":-0.8},{"t":35,"r":6.5,"v":-1},{"t":36.9,"r":6.45,"v":-0.8},
{"t":59.4,"r":3.04,"v":3},{"t":60,"r":3.1,"v":3.2},{"t":60.6,"r":3.08,"v":2.8},{"t":58.6,"r":2.85,"v":-0.5},{"t":61.4,"r":2.9,"v":2.5},{"t":63.6,"r":3.1,"v":2},{"t":63.9,"r":3.75,"v":-0.5},{"t":64.7,"r":3.72,"v":-1},{"t":65.9,"r":3.55,"v":-2},{"t":66.6,"r":3.45,"v":-2},{"t":67.2,"r":3.5,"v":-1.5},{"t":67.7,"r":3.42,"v":-2},{"t":68.5,"r":3.35,"v":2.5},{"t":68.9,"r":3.3,"v":-2},{"t":70,"r":3.45,"v":-1},{"t":71,"r":3.5,"v":-1.3},{"t":71.5,"r":3.52,"v":-0.8},{"t":72,"r":3.48,"v":-1.3},{"t":75.5,"r":3.28,"v":2},{"t":76,"r":2.95,"v":1.7},{"t":75,"r":2.85,"v":1.5},{"t":74,"r":2.9,"v":-0.5},{"t":73.8,"r":2.85,"v":1.8},{"t":74.5,"r":2.52,"v":1.5},{"t":68.5,"r":2.4,"v":2.5},{"t":63.5,"r":2.25,"v":1.5},{"t":61,"r":2.2,"v":-0.5},{"t":59.8,"r":2.1,"v":2},{"t":66.5,"r":2.08,"v":1.5},{"t":72.5,"r":2.15,"v":1.5},
{"t":91.6,"r":2.8,"v":1.5},{"t":91.9,"r":2.95,"v":1.6},{"t":92.4,"r":2.88,"v":1.8},{"t":92.8,"r":3,"v":1.5},{"t":93.2,"r":3.03,"v":1.7},{"t":93.6,"r":2.92,"v":1.5},{"t":94,"r":2.95,"v":1.8},{"t":94.4,"r":2.85,"v":1.5},{"t":94.7,"r":2.9,"v":1.6},{"t":92.1,"r":2.72,"v":1.3},{"t":93,"r":2.8,"v":1.5},{"t":91.3,"r":2.65,"v":-0.3},{"t":94.4,"r":2.68,"v":1.4},{"t":96.2,"r":2.75,"v":1.4},{"t":96.5,"r":2.7,"v":1.5},{"t":96.9,"r":2.8,"v":1.6},{"t":97.3,"r":2.82,"v":1.5},{"t":97.7,"r":2.76,"v":1.4},{"t":98.1,"r":2.88,"v":0.8},{"t":98.5,"r":2.85,"v":0.2},{"t":98.9,"r":2.88,"v":1.3},{"t":99.3,"r":2.95,"v":1.5},{"t":99.7,"r":2.9,"v":1.2},{"t":100.4,"r":2.9,"v":-1},{"t":86.4,"r":2.42,"v":-2},{"t":87,"r":2.45,"v":-2},{"t":87.5,"r":2.42,"v":-1.5},{"t":86.8,"r":2.58,"v":-1.5},
{"t":106,"r":2.78,"v":1.5},{"t":106.4,"r":2.85,"v":1.6},{"t":106.8,"r":2.98,"v":1.5},{"t":107.2,"r":2.92,"v":1.7},{"t":107.6,"r":3.02,"v":1.5},{"t":108,"r":2.95,"v":1.6},{"t":108.4,"r":3,"v":1.4},{"t":108.8,"r":2.92,"v":1.5},{"t":107,"r":2.78,"v":-0.4},{"t":107.8,"r":2.7,"v":1.4},{"t":108.5,"r":2.75,"v":-0.5},{"t":109.1,"r":2.85,"v":-0.4},{"t":109.2,"r":3.3,"v":1.8},{"t":109.5,"r":3.36,"v":1.6},{"t":109.3,"r":3.22,"v":1.5},{"t":110.5,"r":2.95,"v":-1},{"t":111.1,"r":2.88,"v":-0.5},{"t":111.6,"r":2.75,"v":-1},{"t":112.9,"r":2.95,"v":-0.4},{"t":113.3,"r":3.05,"v":1.3},{"t":113.6,"r":2.82,"v":1.6},{"t":114,"r":2.9,"v":1.8},{"t":114.1,"r":2.76,"v":1.6},{"t":114.5,"r":3,"v":1.5},{"t":114.8,"r":2.85,"v":1.8},{"t":115.1,"r":2.95,"v":1.5},{"t":115.4,"r":2.78,"v":1.7},{"t":115.7,"r":2.88,"v":1.6},{"t":116,"r":2.7,"v":1.5},{"t":116.4,"r":2.85,"v":1.8},{"t":116.7,"r":2.78,"v":1.4},{"t":115.6,"r":3.15,"v":-1.3},{"t":116.2,"r":3.22,"v":-1.5},{"t":117.4,"r":2.85,"v":1.3},{"t":118,"r":2.65,"v":-0.4},{"t":118.7,"r":2.9,"v":-0.4},{"t":117.6,"r":3.55,"v":1.6},{"t":117.8,"r":3.65,"v":1.5},{"t":118.3,"r":3.2,"v":1.5},
{"t":1.5,"r":0.25,"v":-1.3},{"t":2,"r":0.3,"v":-1},{"t":2.3,"r":0.45,"v":-1.3},{"t":2.8,"r":0.25,"v":-1.5},{"t":3.2,"r":0.55,"v":-1.3},{"t":3.4,"r":0.32,"v":-1.3},{"t":3.6,"r":0.45,"v":-1.4},{"t":4.2,"r":0.55,"v":-1},{"t":5.2,"r":0.6,"v":-1.3},{"t":5.6,"r":0.65,"v":-0.4},{"t":6.3,"r":0.75,"v":1.5},{"t":6.8,"r":0.82,"v":1.3},{"t":7.4,"r":0.92,"v":-0.4},{"t":8.3,"r":0.98,"v":-1},{"t":7.7,"r":0.88,"v":1.5},{"t":8.8,"r":0.75,"v":-0.3},{"t":9.2,"r":0.55,"v":-0.4},{"t":9.6,"r":0.7,"v":-1.2},{"t":10.3,"r":0.45,"v":-1.2},{"t":10.8,"r":0.4,"v":-1.3},{"t":11.2,"r":0.3,"v":1.5},{"t":11.6,"r":0.34,"v":-1.3},{"t":12.2,"r":0.28,"v":7},{"t":12.6,"r":0.44,"v":-0.4},{"t":13.1,"r":0.5,"v":-1.3},{"t":13.6,"r":0.68,"v":-1.3},{"t":14.2,"r":0.4,"v":-0.3},{"t":14.6,"r":0.31,"v":-0.4},{"t":14.8,"r":0.9,"v":-1.3},{"t":15.2,"r":0.8,"v":-0.4},{"t":15.1,"r":1.1,"v":-0.4},{"t":16.8,"r":1.08,"v":1.2},{"t":17.4,"r":1.02,"v":-0.5},{"t":17.9,"r":0.8,"v":-1.3},{"t":18.2,"r":0.55,"v":-0.2},{"t":18.5,"r":0.4,"v":-1.3},{"t":18.9,"r":0.72,"v":-0.5},{"t":19.3,"r":0.55,"v":-1.4},{"t":19.6,"r":0.4,"v":-1.3},{"t":19.9,"r":0.85,"v":-1.2},{"t":20.2,"r":0.25,"v":-9},{"t":20.6,"r":0.58,"v":-1.3},{"t":21,"r":0.47,"v":-1.4},{"t":21.4,"r":0.7,"v":-1},{"t":21.6,"r":1.05,"v":2},{"t":23,"r":0.3,"v":6},{"t":23.4,"r":0.36,"v":-0.3},{"t":24,"r":0.35,"v":-0.4},{"t":24.5,"r":0.32,"v":-0.3},{"t":25,"r":0.3,"v":6},{"t":25.2,"r":0.35,"v":-0.4},{"t":25.8,"r":0.85,"v":-1.3},{"t":26.3,"r":0.65,"v":-1.2},{"t":26.8,"r":0.98,"v":-1.3},{"t":27.2,"r":0.62,"v":-1.2},{"t":27.5,"r":0.43,"v":-1.3},{"t":28.1,"r":0.55,"v":-1.3},{"t":28.7,"r":0.66,"v":-0.4},{"t":29.5,"r":0.85,"v":-1.2},{"t":30,"r":0.7,"v":-1.3},{"t":30.5,"r":0.62,"v":-0.3},{"t":31,"r":0.78,"v":-1.3},{"t":31.4,"r":0.55,"v":-0.5},{"t":31.8,"r":0.95,"v":-1.3},{"t":32,"r":0.68,"v":-1.4},{"t":32.3,"r":1.2,"v":-1.3},{"t":32.6,"r":0.45,"v":-0.3},{"t":33,"r":1.05,"v":-1.4},{"t":33.3,"r":0.75,"v":-1.3},{"t":33.6,"r":1.25,"v":-1.3},{"t":33.8,"r":0.6,"v":-0.5},{"t":34.2,"r":1.1,"v":-1.3},{"t":34.4,"r":0.92,"v":-1.3},{"t":34.8,"r":1.65,"v":0.2},{"t":34.9,"r":1.2,"v":-0.4},{"t":35.2,"r":1,"v":-1.2},{"t":35.6,"r":1.1,"v":-0.4},{"t":36,"r":1.35,"v":-0.4},{"t":36.2,"r":1.02,"v":-1.3},{"t":36.6,"r":1.8,"v":0.2},{"t":36.7,"r":0.85,"v":0.4},{"t":37,"r":1.18,"v":-1.3},{"t":37.3,"r":0.75,"v":-1.3},{"t":37.8,"r":0.92,"v":-0.4},{"t":38.2,"r":1.3,"v":-1.3},{"t":38.5,"r":0.7,"v":-1.3},{"t":38.9,"r":1.05,"v":-1.3},{"t":39.4,"r":0.8,"v":-0.2},{"t":39.8,"r":1.25,"v":0.2},{"t":40.1,"r":0.88,"v":-1.3},{"t":40.7,"r":0.72,"v":-1.3},{"t":41.2,"r":0.95,"v":-0.3},{"t":41.7,"r":0.65,"v":-0.4},{"t":42.2,"r":1.2,"v":-1.2},{"t":42.7,"r":0.72,"v":-1.3},{"t":43,"r":0.85,"v":-0.3},{"t":43.4,"r":1.5,"v":-0.4},{"t":43.8,"r":0.7,"v":-1.3},{"t":44.2,"r":0.75,"v":0.3},{"t":44.7,"r":0.6,"v":-1.3},{"t":45.2,"r":0.85,"v":-1},{"t":45.8,"r":0.6,"v":-1.3},{"t":46.3,"r":1.07,"v":1.3},{"t":46.6,"r":0.5,"v":-1.3},{"t":46.9,"r":1.15,"v":1.4},{"t":47,"r":1.3,"v":1.4},{"t":47.3,"r":0.95,"v":1.5},{"t":47.6,"r":0.4,"v":-1.3},{"t":47.7,"r":1.05,"v":1.4},{"t":47.9,"r":1.22,"v":0.8},{"t":48.2,"r":0.95,"v":1.5},{"t":48.5,"r":1.12,"v":1.4},{"t":48.7,"r":1.7,"v":-0.3},{"t":48.8,"r":0.3,"v":1.5},{"t":49,"r":1.02,"v":1.5},{"t":49.2,"r":1.25,"v":1.2},{"t":49.4,"r":0.92,"v":1.5},{"t":49.8,"r":1.18,"v":1.5},{"t":50.1,"r":0.85,"v":0.8},{"t":50.2,"r":1.05,"v":1.5},{"t":50.6,"r":0.3,"v":-9},{"t":50.8,"r":0.75,"v":1.2},{"t":51,"r":0.95,"v":1.5},{"t":51.3,"r":0.62,"v":1.4},{"t":51.5,"r":0.85,"v":1.5},{"t":51.7,"r":0.35,"v":0.4},{"t":51.9,"r":0.7,"v":1.4},{"t":52.2,"r":1,"v":1.5},{"t":52.4,"r":0.6,"v":1.3},{"t":52.8,"r":0.85,"v":-1.3},{"t":53.1,"r":1.2,"v":-0.4},{"t":53.5,"r":1.05,"v":-1.3},{"t":53.9,"r":1.15,"v":-0.4},{"t":54.2,"r":1.35,"v":-1.3},{"t":54.7,"r":1.45,"v":-0.4},{"t":55.4,"r":1.42,"v":-1.3},{"t":56.1,"r":1.6,"v":0.2},{"t":56.7,"r":1.55,"v":-0.3},{"t":57.4,"r":1.5,"v":1.3},{"t":57.8,"r":1.58,"v":0.3},
{"t":59,"r":1.72,"v":1.5},{"t":59.6,"r":1.8,"v":0.2},{"t":60.3,"r":1.78,"v":1.5},{"t":60.9,"r":1.85,"v":1.4},{"t":61.5,"r":1.72,"v":0.4},{"t":62.1,"r":1.9,"v":2},{"t":63.8,"r":1.98,"v":2},{"t":64.2,"r":1.72,"v":1.5},{"t":64.6,"r":1.82,"v":1.6},{"t":65.3,"r":1.78,"v":1.4},{"t":65.7,"r":1.82,"v":1.6},{"t":66.3,"r":1.9,"v":-0.4},{"t":66.9,"r":1.75,"v":1.4},{"t":67.8,"r":1.74,"v":-1.3},{"t":68.3,"r":1.72,"v":1.3},{"t":69.2,"r":1.76,"v":1.5},{"t":69.8,"r":1.82,"v":1.5},{"t":70.4,"r":1.75,"v":0.2},{"t":71.2,"r":1.85,"v":1.6},{"t":71.7,"r":1.92,"v":1.6},{"t":72.1,"r":2,"v":1.5},{"t":72.8,"r":1.95,"v":1.5},{"t":73.4,"r":1.62,"v":1.3},{"t":73.9,"r":1.55,"v":1.4},{"t":74.4,"r":1.52,"v":0.3},{"t":75.2,"r":1.58,"v":0.2},{"t":76.3,"r":1.65,"v":0.2},{"t":77.3,"r":1.6,"v":-0.3},{"t":78.2,"r":1.55,"v":-0.4},{"t":79.2,"r":1.45,"v":-0.4},{"t":79.9,"r":1.38,"v":-1.3},{"t":80.6,"r":1.3,"v":-0.5},{"t":81.2,"r":1.4,"v":-1.3},{"t":81.8,"r":1.25,"v":-0.4},{"t":82.4,"r":1.38,"v":-1.3},{"t":83,"r":1.45,"v":-0.4},{"t":83.6,"r":1.4,"v":-1.2},{"t":84.2,"r":1.5,"v":-0.4},{"t":84.8,"r":1.62,"v":-1.3},{"t":85.6,"r":1.45,"v":-0.4},{"t":85.8,"r":1.72,"v":-1.3},{"t":86.6,"r":1.62,"v":-1.3},{"t":87.3,"r":1.6,"v":-0.4},{"t":87.9,"r":1.55,"v":-1.3},{"t":88.7,"r":1.55,"v":1.4},{"t":89.2,"r":1.62,"v":-0.3},{"t":90.2,"r":1.62,"v":1.3},{"t":90.9,"r":1.55,"v":1.2},{"t":91.7,"r":1.62,"v":1.4},{"t":92.3,"r":1.45,"v":-0.4},{"t":93.1,"r":1.35,"v":-0.2},{"t":93.7,"r":1.85,"v":0.2},{"t":94,"r":1.3,"v":-0.3},{"t":94.8,"r":1.35,"v":-0.4},{"t":95.2,"r":1.42,"v":-0.5},{"t":95.7,"r":1.25,"v":-0.3},{"t":96.2,"r":1.3,"v":-1.3},{"t":96.9,"r":1.2,"v":-0.4},{"t":97.4,"r":1.35,"v":-0.4},{"t":97.9,"r":1.2,"v":-1.3},{"t":98.3,"r":1.05,"v":-1.3},{"t":98.6,"r":1.4,"v":-0.4},{"t":99,"r":0.9,"v":-1.3},{"t":99.2,"r":1.2,"v":-0.3},{"t":99.7,"r":0.75,"v":-1.3},{"t":100.1,"r":1.02,"v":-0.3},{"t":100.5,"r":0.65,"v":0.2},{"t":100.9,"r":1.3,"v":-1.3},{"t":101.2,"r":0.85,"v":-0.4},{"t":101.6,"r":0.55,"v":1.2},{"t":102,"r":1.2,"v":-1.3},{"t":102.3,"r":0.7,"v":0.2},{"t":102.7,"r":0.58,"v":0.3},{"t":103,"r":0.95,"v":-1.3},{"t":103.4,"r":1.1,"v":-1.3},{"t":103.8,"r":0.55,"v":0.2},{"t":104.2,"r":1.4,"v":-1.2},{"t":104.6,"r":0.75,"v":1.3},{"t":105,"r":1.05,"v":-1.3},{"t":105.4,"r":1.2,"v":-1.2},{"t":105.9,"r":0.65,"v":0.1},{"t":106.4,"r":0.85,"v":1.3},{"t":106.9,"r":1,"v":1.4},{"t":107.3,"r":0.95,"v":1.3},{"t":107.7,"r":1.15,"v":-1},{"t":108.2,"r":0.5,"v":0.2},{"t":109.2,"r":0.55,"v":-0.3},{"t":109.7,"r":0.98,"v":1.4},{"t":110.2,"r":1.1,"v":1.4},{"t":110.7,"r":0.95,"v":1.2},{"t":111.4,"r":0.5,"v":0.2},{"t":112.2,"r":0.62,"v":-0.4},{"t":113.2,"r":0.8,"v":0.2},{"t":113.8,"r":0.75,"v":1.2},{"t":114.6,"r":0.85,"v":-1.3},{"t":115.3,"r":0.85,"v":0.3},{"t":116.3,"r":0.92,"v":1.3},{"t":117.3,"r":0.88,"v":0.3},{"t":118.3,"r":0.8,"v":0.2},{"t":119.2,"r":1.3,"v":0.2},{"t":119.8,"r":1,"v":0.3},{"t":120.2,"r":1.35,"v":0.3},{"t":120.3,"r":1.65,"v":-0.4},
{"t":58.2,"r":0.7,"v":1.5},{"t":58.8,"r":1.05,"v":-1.3},{"t":59.3,"r":0.35,"v":-1.3},{"t":59.2,"r":1.45,"v":-1.3},{"t":59.7,"r":0.85,"v":-0.4},{"t":60.2,"r":0.45,"v":1.5},{"t":60.4,"r":1.2,"v":-1.3},{"t":60.8,"r":0.7,"v":1.6},{"t":61.2,"r":1.05,"v":1.5},{"t":61.3,"r":0.4,"v":-1.3},{"t":61.7,"r":1.45,"v":-0.4},{"t":62.2,"r":0.55,"v":-1.3},{"t":62.7,"r":0.9,"v":-0.4},{"t":62.8,"r":1.3,"v":-1.3},{"t":63.3,"r":0.45,"v":1.5},{"t":63.3,"r":0.9,"v":1.5},{"t":63.7,"r":1.2,"v":1.4},{"t":64.3,"r":0.35,"v":1.5},{"t":64.3,"r":0.75,"v":-0.4},{"t":64.8,"r":1.15,"v":-1.3},{"t":64.8,"r":0.4,"v":-1.3},{"t":65.3,"r":0.6,"v":1.5},{"t":65.3,"r":1,"v":-1.3},{"t":65.8,"r":0.35,"v":1.4},{"t":65.8,"r":0.9,"v":1.5},{"t":66.3,"r":0.7,"v":-0.4},{"t":66.3,"r":1.2,"v":-1.3},{"t":66.8,"r":0.5,"v":1.5},{"t":66.8,"r":1.3,"v":-2.4},{"t":67.3,"r":0.95,"v":-0.4},{"t":67.3,"r":0.45,"v":-1.3},{"t":67.8,"r":1.4,"v":-0.4},{"t":67.8,"r":0.75,"v":-2.4},{"t":68.3,"r":0.4,"v":-0.4},{"t":68.3,"r":1.25,"v":-2.2},{"t":68.8,"r":0.9,"v":-2.4},{"t":68.8,"r":0.35,"v":-1.3},{"t":69.3,"r":0.7,"v":-1.3},{"t":69.3,"r":1.2,"v":-0.4},{"t":69.8,"r":1,"v":-0.4},{"t":69.8,"r":0.6,"v":-1.3},{"t":70.3,"r":1.05,"v":1.5},{"t":70.3,"r":0.55,"v":-0.4},{"t":70.8,"r":0.65,"v":-1.3},{"t":70.8,"r":1.45,"v":-1.3},{"t":71.3,"r":1.1,"v":1.5},{"t":71.3,"r":0.55,"v":-0.4},{"t":71.8,"r":0.95,"v":1.3},{"t":71.8,"r":1.4,"v":-0.4},{"t":72.3,"r":0.6,"v":-1.3},{"t":72.3,"r":1.05,"v":1.5},{"t":72.8,"r":0.65,"v":-0.4},{"t":72.8,"r":1.25,"v":-1.3},{"t":73.3,"r":0.75,"v":1.4},{"t":73.3,"r":1.3,"v":-0.4},{"t":73.8,"r":1.2,"v":-1.3},{"t":73.8,"r":0.4,"v":0.2},{"t":74.3,"r":0.8,"v":0.2},{"t":74.3,"r":1.25,"v":-1.3},{"t":74.8,"r":0.4,"v":0.2},{"t":74.8,"r":1.2,"v":-1.3},{"t":75.3,"r":0.7,"v":-2.4},{"t":75.3,"r":1.3,"v":-1.3},{"t":75.8,"r":0.4,"v":-0.4},{"t":75.8,"r":1,"v":-0.4},{"t":76.3,"r":0.65,"v":-0.5},{"t":76.3,"r":1.15,"v":-1.3},{"t":76.8,"r":0.8,"v":-2.6},{"t":76.8,"r":1.3,"v":-0.8},{"t":77.3,"r":0.45,"v":0.2},{"t":77.3,"r":1.15,"v":-1.3},{"t":77.8,"r":0.7,"v":-2.5},{"t":77.8,"r":1.3,"v":-1.3},{"t":78.3,"r":0.35,"v":-1.3},{"t":78.3,"r":0.85,"v":-0.5},{"t":78.8,"r":0.6,"v":-1.3},{"t":78.8,"r":1.2,"v":-0.5},{"t":79.3,"r":0.35,"v":0.2},{"t":79.3,"r":0.8,"v":-1.3},{"t":79.8,"r":0.55,"v":-2.4},{"t":79.8,"r":1.15,"v":-0.5},{"t":80.3,"r":0.45,"v":-2.5},{"t":80.3,"r":0.85,"v":-0.5},{"t":80.8,"r":0.65,"v":-2.4},{"t":80.8,"r":1.2,"v":-1.3},{"t":81.3,"r":0.4,"v":-1.4},{"t":81.3,"r":1.05,"v":-2.2},{"t":81.8,"r":0.7,"v":-0.5},{"t":81.8,"r":0.35,"v":-1.4},{"t":82.3,"r":0.95,"v":-2.3},{"t":82.3,"r":0.3,"v":-1.4},{"t":82.8,"r":0.7,"v":-0.4},{"t":82.8,"r":1.15,"v":-1.3},{"t":83.3,"r":0.35,"v":1.2},{"t":83.3,"r":0.75,"v":-2.2},{"t":83.8,"r":0.6,"v":-1.4},{"t":83.8,"r":1.1,"v":-0.4},{"t":84.3,"r":0.4,"v":0.3},{"t":84.3,"r":0.8,"v":-0.4},{"t":84.8,"r":0.7,"v":-2.3},{"t":84.8,"r":1.25,"v":-0.4},{"t":85.3,"r":0.35,"v":-0.4},{"t":85.3,"r":1,"v":-0.4},{"t":85.8,"r":0.65,"v":-2},{"t":85.8,"r":1.25,"v":-0.4},{"t":86.3,"r":0.85,"v":-0.4},{"t":86.8,"r":0.7,"v":-2.2},{"t":86.8,"r":1.3,"v":-0.4},{"t":87.3,"r":0.85,"v":-0.4},{"t":87.8,"r":0.65,"v":-2.3},{"t":87.8,"r":1.2,"v":1.3},{"t":88.3,"r":0.9,"v":-0.4},{"t":88.8,"r":0.6,"v":-2.2},{"t":88.8,"r":1.3,"v":1.3},{"t":89.3,"r":0.85,"v":0.2},{"t":89.8,"r":0.65,"v":-2.3},{"t":89.8,"r":1.15,"v":0.2},{"t":90.3,"r":0.8,"v":-0.4},{"t":90.3,"r":1.25,"v":-0.3},{"t":90.8,"r":0.6,"v":-2.2},{"t":90.8,"r":1.1,"v":-1.3},{"t":91.3,"r":0.7,"v":-0.4},{"t":91.3,"r":1.2,"v":0.2},{"t":91.8,"r":0.6,"v":-2.4},{"t":92.3,"r":1,"v":-1.3},{"t":92.8,"r":0.6,"v":-2.3},{"t":92.8,"r":1,"v":0.3},{"t":93.3,"r":0.55,"v":0.2},{"t":93.3,"r":1.05,"v":-2.3},{"t":93.8,"r":0.6,"v":-0.4},{"t":94.3,"r":1,"v":-2.2},{"t":94.8,"r":0.6,"v":-0.5},{"t":95.3,"r":0.85,"v":0.2},{"t":95.8,"r":0.45,"v":0.2},{"t":96.3,"r":0.9,"v":0.2},{"t":97.2,"r":0.75,"v":-0.4},{"t":97.8,"r":0.5,"v":0.3},{"t":98.7,"r":0.6,"v":1.2},{"t":99.4,"r":0.65,"v":0.2},{"t":4.8,"r":0.35,"v":-1.3},{"t":5.3,"r":0.4,"v":-0.4},{"t":5.8,"r":0.3,"v":-1.3},{"t":6.2,"r":0.42,"v":-0.3},{"t":7.2,"r":0.3,"v":-0.3},{"t":8.2,"r":0.35,"v":-0.4},{"t":8.8,"r":0.42,"v":1.3},{"t":15.8,"r":0.45,"v":1.3},{"t":16.3,"r":0.75,"v":-0.4},{"t":17.2,"r":0.55,"v":-1.3},{"t":34.8,"r":0.35,"v":-0.3},{"t":35.7,"r":0.6,"v":-0.4},{"t":36.3,"r":0.4,"v":-0.5},{"t":38.3,"r":0.42,"v":0.6},{"t":39.3,"r":0.38,"v":-0.4},{"t":41.3,"r":0.35,"v":1.4},{"t":42.8,"r":0.38,"v":1.2},{"t":44.3,"r":0.42,"v":-0.5},{"t":54.7,"r":0.4,"v":-2.6},{"t":55.7,"r":0.95,"v":-2.5},{"t":56.3,"r":0.5,"v":-1.3},{"t":56.8,"r":0.6,"v":-2.5},{"t":57.3,"r":0.35,"v":-1.3}]},
"hconcat":[{"width":801,"height":533,"resolve":{"axis":{"x":"independent","y":"independent"}},"layer":[
{"data":{"name":"frame"},"mark":{"type":"rect","color":"#808080"},"encoding":{"x":{"field":"a","type":"quantitative","scale":{"domain":[0.85,120.5],"nice":false,"zero":false},"axis":{"orient":"bottom","values":[3.33,6.67,10,13.33,16.67,20,23.33,26.67,30,33.33,36.67,40,43.33,46.67,50,53.33,56.67,60,63.33,66.67,70,73.33,76.67,80,83.33,86.67,90,93.33,96.67,100,103.33,106.67,110,113.33,116.67,120],"labelExpr":"datum.value%20==0?format(19+floor(datum.value/60),'02d')+':'+format(datum.value%60,'02d'):''","labelOverlap":false,"title":"Time UTC","tickSize":{"condition":{"test":"datum.value%20==0","value":6},"value":3},"labelPadding":8,"titlePadding":5}},"x2":{"field":"b"},"y":{"field":"r","type":"quantitative","scale":{"domain":[0,13],"nice":false},"axis":{"orient":"left","values":[0,0.5,1,1.5,2,2.5,3,3.5,4,4.5,5,5.5,6,6.5,7,7.5,8,8.5,9,9.5,10,10.5,11,11.5,12,12.5,13],"labelExpr":"datum.value%2==0?datum.value:''","labelOverlap":false,"labelFlush":true,"title":"Range km","tickSize":{"condition":{"test":"datum.value%2==0","value":8.5},"value":4},"labelPadding":4,"titlePadding":16}},"y2":{"field":"r2"}}},
{"data":{"name":"columns"},"mark":{"type":"rect","width":3.6,"clip":true},"encoding":{"x":{"field":"t","type":"quantitative","axis":null},"y":{"field":"r","type":"quantitative","axis":null},"y2":{"field":"r2"},"color":{"field":"v","type":"quantitative","legend":null,"scale":{"domain":[-10.33,-8,-6.5,-5,-3.5,-1.3,-1,-0.5,0,0.5,1,1.5,3,5,7,8.5,10.33],"range":["#000000","#000050","#003a66","#006a70","#00945a","#008c00","#3f7f00","#557400","#706800","#8b4a08","#aa2800","#cc0000","#d42c00","#dd5500","#e89000","#f4c000","#ffff00"],"interpolate":"rgb","clamp":true}}}},
{"data":{"name":"specks"},"mark":{"type":"rect","width":2.4,"height":2.4,"clip":true},"encoding":{"x":{"field":"t","type":"quantitative","axis":null},"y":{"field":"r","type":"quantitative","axis":null},"color":{"field":"v","type":"quantitative","legend":null}}},
{"data":{"name":"frame"},"mark":{"type":"rect","opacity":0},"encoding":{"x":{"field":"a","type":"quantitative","axis":{"orient":"top","values":[3.33,6.67,10,13.33,16.67,20,23.33,26.67,30,33.33,36.67,40,43.33,46.67,50,53.33,56.67,60,63.33,66.67,70,73.33,76.67,80,83.33,86.67,90,93.33,96.67,100,103.33,106.67,110,113.33,116.67,120],"labels":false,"title":null,"tickSize":{"condition":{"test":"datum.value%20==0","value":6},"value":3}}},"x2":{"field":"b"},"y":{"field":"r","type":"quantitative","axis":{"orient":"right","values":[0,0.5,1,1.5,2,2.5,3,3.5,4,4.5,5,5.5,6,6.5,7,7.5,8,8.5,9,9.5,10,10.5,11,11.5,12,12.5,13],"labels":false,"title":null,"tickSize":{"condition":{"test":"datum.value%2==0","value":8.5},"value":4}}},"y2":{"field":"r2"}}}]},
{"width":19,"height":533,"view":{"stroke":"black","strokeWidth":1.5},"data":{"values":[{"c":-10.2},{"c":-9.9},{"c":-9.6},{"c":-9.3},{"c":-9},{"c":-8.7},{"c":-8.4},{"c":-8.1},{"c":-7.8},{"c":-7.5},{"c":-7.2},{"c":-6.9},{"c":-6.6},{"c":-6.3},{"c":-6},{"c":-5.7},{"c":-5.4},{"c":-5.1},{"c":-4.8},{"c":-4.5},{"c":-4.2},{"c":-3.9},{"c":-3.6},{"c":-3.3},{"c":-3},{"c":-2.7},{"c":-2.4},{"c":-2.1},{"c":-1.8},{"c":-1.5},{"c":-1.2},{"c":-0.9},{"c":-0.6},{"c":-0.3},{"c":0},{"c":0.3},{"c":0.6},{"c":0.9},{"c":1.2},{"c":1.5},{"c":1.8},{"c":2.1},{"c":2.4},{"c":2.7},{"c":3},{"c":3.3},{"c":3.6},{"c":3.9},{"c":4.2},{"c":4.5},{"c":4.8},{"c":5.1},{"c":5.4},{"c":5.7},{"c":6},{"c":6.3},{"c":6.6},{"c":6.9},{"c":7.2},{"c":7.5},{"c":7.8},{"c":8.1},{"c":8.4},{"c":8.7},{"c":9},{"c":9.3},{"c":9.6},{"c":9.9},{"c":10.2}]},"mark":{"type":"rect","height":8.2,"width":19,"clip":true},"encoding":{"x":{"value":9.5},"y":{"field":"c","type":"quantitative","scale":{"domain":[-10.33,10.33],"nice":false},"axis":{"orient":"right","domain":false,"values":[-10,-9,-8,-7,-6,-5,-4,-3,-2,-1,0,1,2,3,4,5,6,7,8,9,10],"labelExpr":"datum.value%5==0?(datum.value<0?'-':'')+abs(datum.value):''","labelOverlap":false,"title":"VELg m/s","titleAngle":270,"tickSize":-2,"labelPadding":7,"titlePadding":20}},"color":{"field":"c","type":"quantitative","legend":null,"scale":{"domain":[-10.33,-8,-6.5,-5,-3.5,-1.3,-1,-0.5,0,0.5,1,1.5,3,5,7,8.5,10.33],"range":["#000000","#000050","#003a66","#006a70","#00945a","#008c00","#3f7f00","#557400","#706800","#8b4a08","#aa2800","#cc0000","#d42c00","#dd5500","#e89000","#f4c000","#ffff00"],"interpolate":"rgb","clamp":true}}}}]}
